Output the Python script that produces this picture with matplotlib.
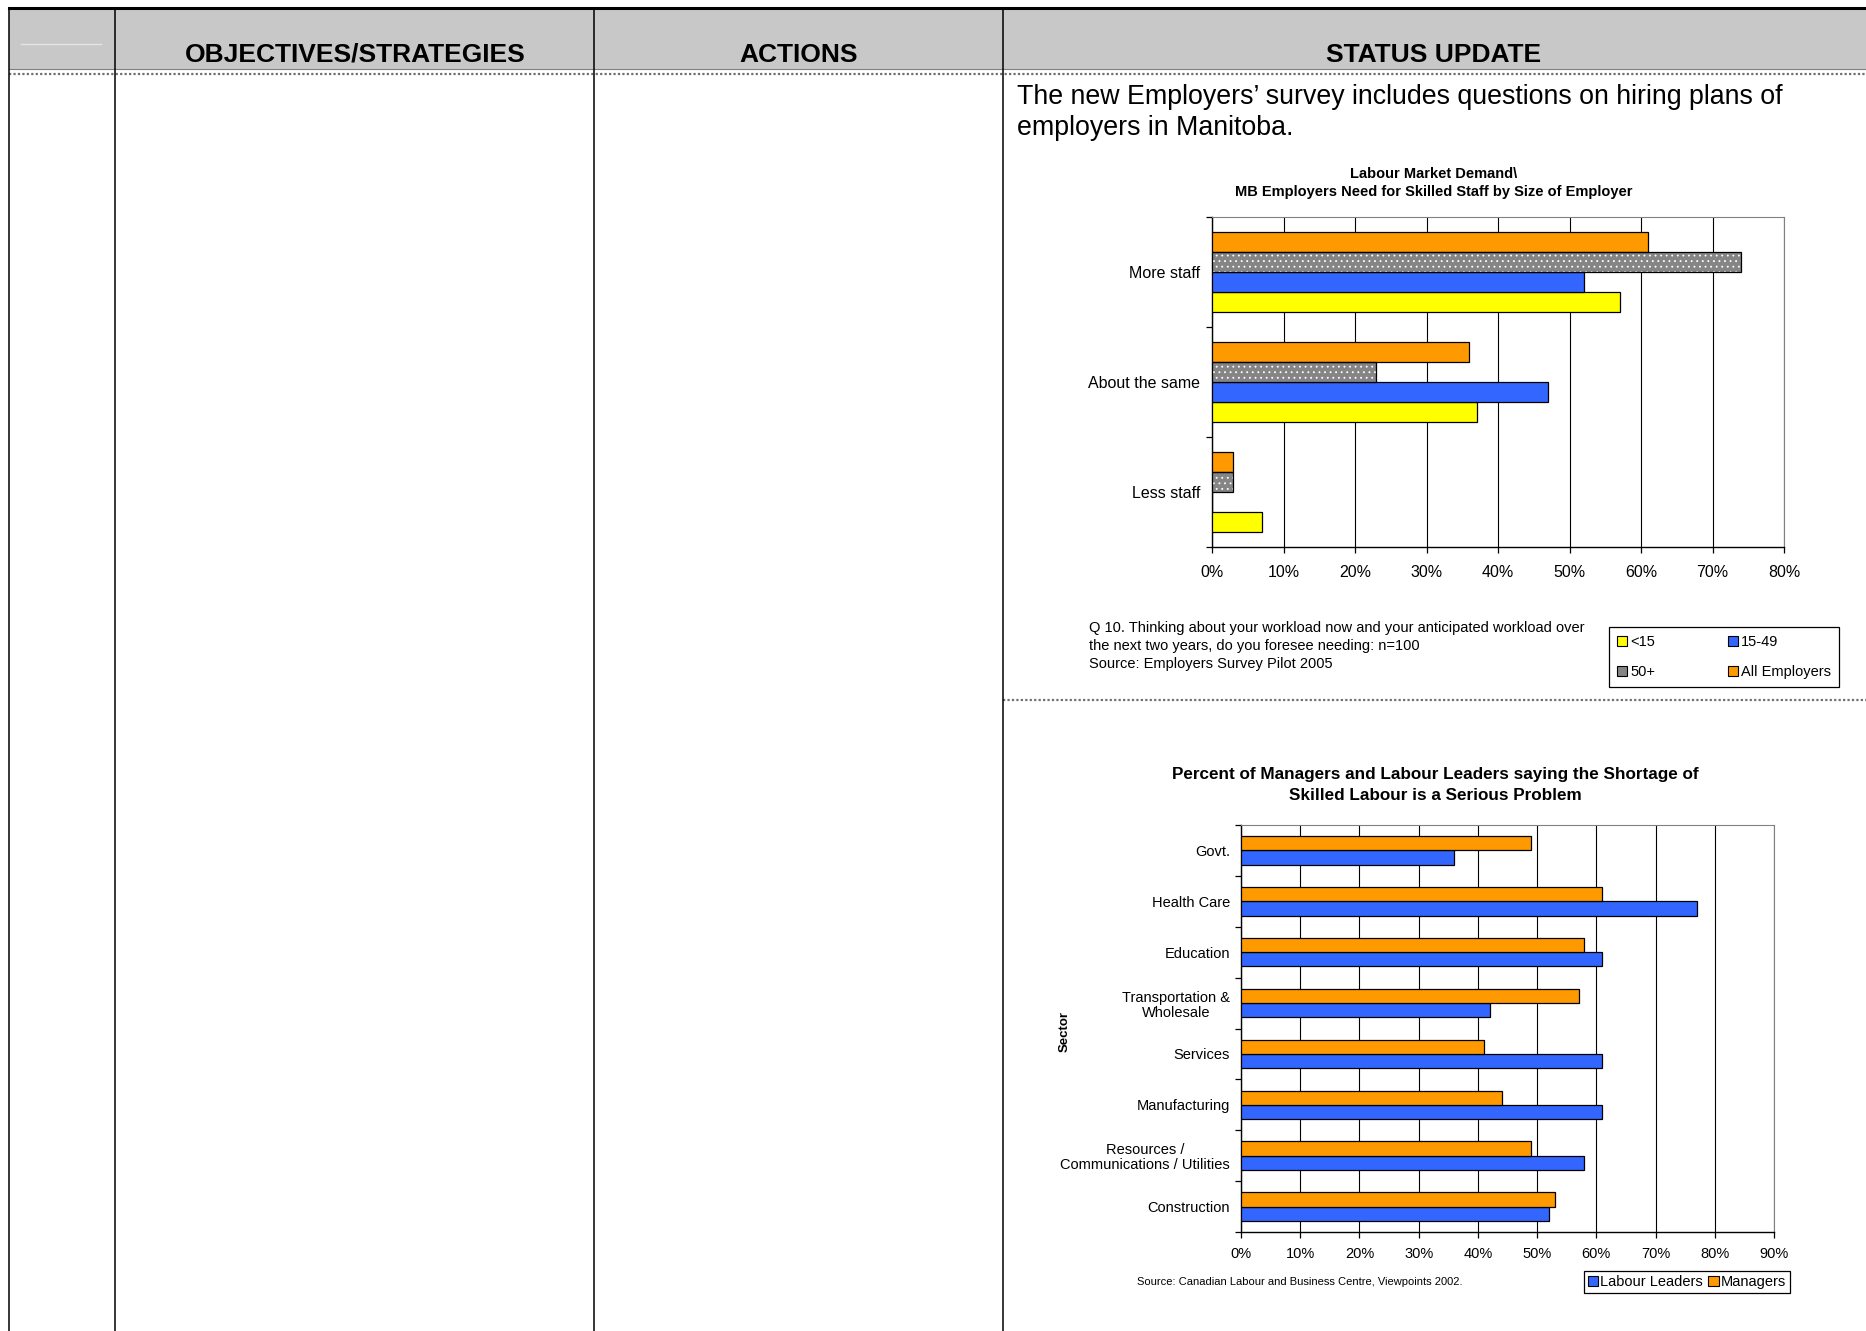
import matplotlib
matplotlib.use("Agg")
import matplotlib.pyplot as plt
from matplotlib.patches import Patch, Rectangle
from matplotlib.ticker import FixedLocator
import numpy as np

plt.rcParams['font.family'] = ['Liberation Sans', 'DejaVu Sans']
plt.rcParams['hatch.linewidth'] = 0.6

# ---------------- data ----------------
header_labels = ['OBJECTIVES/STRATEGIES', 'ACTIONS', 'STATUS UPDATE']
status_text = ["The new Employers\u2019 survey includes questions on hiring plans of",
               "employers in Manitoba."]

demand_title = ["Labour Market Demand\\",
                "MB Employers Need for Skilled Staff by Size of Employer"]
demand_categories = ['More staff', 'About the same', 'Less staff']
demand_series = ['<15', '15-49', '50+', 'All Employers']
share_lt15 = [57, 37, 7]
share_15_49 = [52, 47, 0]
share_50plus = [74, 23, 3]
share_all = [61, 36, 3]
demand_ticks = [0, 10, 20, 30, 40, 50, 60, 70, 80]
demand_note = ["Q 10. Thinking about your workload now and your anticipated workload over",
               "the next two years, do you foresee needing: n=100",
               "Source: Employers Survey Pilot 2005"]

shortage_title = ["Percent of Managers and Labour Leaders saying the Shortage of",
                  "Skilled Labour is a Serious Problem"]
sectors = ['Govt.', 'Health Care', 'Education', 'Transportation &\nWholesale',
           'Services', 'Manufacturing', 'Resources /\nCommunications / Utilities',
           'Construction']
labour_leaders = [36, 77, 61, 42, 61, 61, 58, 52]
managers = [49, 61, 58, 57, 41, 44, 49, 53]
shortage_ticks = [0, 10, 20, 30, 40, 50, 60, 70, 80, 90]
shortage_source = "Source: Canadian Labour and Business Centre, Viewpoints 2002."

# ---------------- styles ----------------
YELLOW = '#FFFF00'
BLUE = '#3366FF'
GREY = '#858585'
ORANGE = '#FF9900'
HEADER_FILL = '#C8C8C8'

W, H, DPI = 1866, 1331, 100
fig = plt.figure(figsize=(W / DPI, H / DPI), dpi=DPI)


def px_axes(left, top, right, bottom):
    return fig.add_axes([left / W, 1 - bottom / H, (right - left) / W, (bottom - top) / H])


def fx(x):
    return x / W


def fy(y):
    return 1 - y / H


# ---------------- table background ----------------
bg = fig.add_axes([0, 0, 1, 1], zorder=-5)
bg.set_xlim(0, W)
bg.set_ylim(H, 0)
bg.axis('off')
bg.add_patch(Rectangle((9, 8), W - 9, 61, facecolor=HEADER_FILL, edgecolor='none'))
bg.plot([9, W], [8, 8], color='black', lw=2.2)
bg.plot([9, W], [69, 69], color='#808080', lw=0.8)
bg.plot([9, W], [74, 74], color='#707070', lw=1.6, ls=(0, (1, 1)))
bg.plot([1003, W], [700, 700], color='#707070', lw=1.6, ls=(0, (1, 1)))
bg.plot([21, 101], [44, 44], color='#E4E4E4', lw=1.0)
for xc in [9, 115, 594, 1003]:
    bg.plot([xc, xc], [8, H], color='black', lw=1.1)

for label, xc in zip(header_labels, [355, 799, 1434]):
    bg.text(xc, 55, label, ha='center', va='center', fontsize=19, fontweight='bold')

for line, yc in zip(status_text, [97, 128]):
    bg.text(1017, yc, line, ha='left', va='center', fontsize=19.25)

# ---------------- chart 1: labour market demand ----------------
for line, yc in zip(demand_title, [174, 192]):
    bg.text(1434, yc, line, ha='center', va='center', fontsize=10.5, fontweight='bold')

ax1 = px_axes(1212, 217, 1784, 547)
n1 = len(demand_categories)
ypos = np.arange(n1)[::-1].astype(float)
bh = 0.182
series_vals = [share_lt15, share_15_49, share_50plus, share_all]
series_cols = [YELLOW, BLUE, GREY, ORANGE]
for k, (vals, col) in enumerate(zip(series_vals, series_cols)):
    yy = ypos + (k - 1.5) * bh
    if col == GREY:
        ax1.barh(yy, vals, height=bh, color=col, edgecolor='white', hatch='...',
                 linewidth=0, zorder=3)
        ax1.barh(yy, vals, height=bh, fill=False, edgecolor='black', linewidth=0.9, zorder=4)
    else:
        ax1.barh(yy, vals, height=bh, color=col, edgecolor='black', linewidth=0.9, zorder=3)

ax1.set_xlim(0, 80)
ax1.set_ylim(-0.5, n1 - 0.5)
ax1.set_xticks(demand_ticks)
ax1.set_xticklabels([f'{t}%' for t in demand_ticks], fontsize=11.5)
ax1.set_yticks(ypos)
ax1.set_yticklabels(demand_categories, fontsize=11.5)
ax1.yaxis.set_minor_locator(FixedLocator(np.arange(-0.5, n1, 1.0)))
ax1.tick_params(axis='y', which='major', length=0, pad=8.5)
ax1.tick_params(axis='y', which='minor', length=4, width=0.9, direction='out')
ax1.tick_params(axis='x', length=4, width=0.9, pad=9)
ax1.xaxis.grid(True, color='black', lw=0.8)
ax1.set_axisbelow(True)
for s in ['top', 'right']:
    ax1.spines[s].set_color('#808080')
for s in ['left', 'bottom']:
    ax1.spines[s].set_color('black')
    ax1.spines[s].set_linewidth(1.0)

for line, yc in zip(demand_note, [628, 646, 664]):
    bg.text(1089, yc, line, ha='left', va='center', fontsize=10.5)

handles1 = [Patch(facecolor=YELLOW, edgecolor='black', lw=0.8),
            Patch(facecolor=GREY, edgecolor='black', lw=0.8),
            Patch(facecolor=BLUE, edgecolor='black', lw=0.8),
            Patch(facecolor=ORANGE, edgecolor='black', lw=0.8)]
labels1 = ['<15', '50+', '15-49', 'All Employers']
leg1 = fig.legend(handles1, labels1, ncol=2, loc='upper left', mode='expand',
                  bbox_to_anchor=(fx(1609), fy(627), fx(1839) - fx(1609), 0),
                  fontsize=10.5, handlelength=0.7, handleheight=0.7, handletextpad=0.2,
                  labelspacing=1.08, borderpad=0.55, borderaxespad=0, fancybox=False,
                  framealpha=1, edgecolor='black')
leg1.get_frame().set_linewidth(0.9)

# ---------------- chart 2: skilled labour shortage ----------------
for line, yc in zip(shortage_title, [774, 795]):
    bg.text(1435, yc, line, ha='center', va='center', fontsize=12.3, fontweight='bold')

ax2 = px_axes(1241, 825, 1774, 1232)
n2 = len(sectors)
ypos2 = np.arange(n2)[::-1].astype(float)
bh2 = 0.28
ax2.barh(ypos2 - bh2 / 2, labour_leaders, height=bh2, color=BLUE, edgecolor='black',
         linewidth=0.9, zorder=3)
ax2.barh(ypos2 + bh2 / 2, managers, height=bh2, color=ORANGE, edgecolor='black',
         linewidth=0.9, zorder=3)
ax2.set_xlim(0, 90)
ax2.set_ylim(-0.5, n2 - 0.5)
ax2.set_xticks(shortage_ticks)
ax2.set_xticklabels([f'{t}%' for t in shortage_ticks], fontsize=10.5)
ax2.set_yticks(ypos2)
ax2.set_yticklabels(sectors, fontsize=10.5, multialignment='center', linespacing=1.1)
ax2.yaxis.set_minor_locator(FixedLocator(np.arange(-0.5, n2, 1.0)))
ax2.tick_params(axis='y', which='major', length=0, pad=8)
ax2.tick_params(axis='y', which='minor', length=4, width=0.9, direction='out')
ax2.tick_params(axis='x', length=4, width=0.9, pad=7)
ax2.xaxis.grid(True, color='black', lw=0.8)
ax2.set_axisbelow(True)
for s in ['top', 'right']:
    ax2.spines[s].set_color('#808080')
for s in ['left', 'bottom']:
    ax2.spines[s].set_color('black')
    ax2.spines[s].set_linewidth(1.0)

bg.text(1065, 1031, 'Sector', rotation=90, ha='center', va='center', fontsize=9.5,
        fontweight='bold')
bg.text(1137, 1282, shortage_source, ha='left', va='center', fontsize=8.0)

handles2 = [Patch(facecolor=BLUE, edgecolor='black', lw=0.8),
            Patch(facecolor=ORANGE, edgecolor='black', lw=0.8)]
leg2 = fig.legend(handles2, ['Labour Leaders', 'Managers'], ncol=2, loc='center',
                  bbox_to_anchor=(fx(1687), fy(1282)), fontsize=10.5,
                  handlelength=0.7, handleheight=0.7, handletextpad=0.15,
                  columnspacing=0.35, borderpad=0.25, borderaxespad=0, fancybox=False,
                  framealpha=1, edgecolor='black')
leg2.get_frame().set_linewidth(0.9)

fig.savefig('out.png', dpi=DPI, facecolor='white')
